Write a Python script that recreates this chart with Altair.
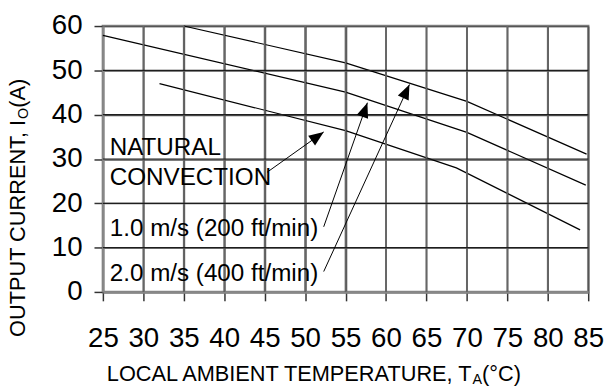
import math
import altair as alt
import pandas as pd

# ---- data ----
temp_top = [35, 55, 70, 84.8]          # 2.0 m/s (400 ft/min)
curr_top = [60, 51.7, 43.0, 31.1]
temp_mid = [25, 55, 70, 84.7]          # 1.0 m/s (200 ft/min)
curr_mid = [57.9, 45.1, 36.0, 24.1]
temp_nat = [32, 55, 68.7, 84]          # natural convection
curr_nat = [47.0, 36.4, 28.0, 14.0]

x_ticks = list(range(25, 90, 5))
y_ticks = list(range(0, 70, 10))

label_lines = ["NATURAL", "CONVECTION", "1.0 m/s (200 ft/min)", "2.0 m/s (400 ft/min)"]
label_x = [25.85, 25.85, 25.85, 25.85]
label_y = [30.93, 24.09, 12.71, 2.52]

arrow_x0 = [45.3, 52.3, 52.3]
arrow_y0 = [27.0, 14.7, 4.6]
arrow_x1 = [52.3, 57.7, 62.9]
arrow_y1 = [36.1, 42.7, 46.8]

# ---- layout ----
W, H = 491, 269
SX = W / 60.0
SY = H / 60.0
FONT = "Liberation Sans"
TITLE_FS = 22
SUB_FS = 14.5

rows = []
for name, xs_, ys_ in [("top", temp_top, curr_top), ("mid", temp_mid, curr_mid),
                       ("nat", temp_nat, curr_nat)]:
    for i, (a, b) in enumerate(zip(xs_, ys_)):
        rows.append({"series": name, "t": a, "i": b, "o": i})
curves = pd.DataFrame(rows)

labels = pd.DataFrame({"text": label_lines, "x": label_x, "y": label_y})

heads = []
for x0, y0, x1, y1 in zip(arrow_x0, arrow_y0, arrow_x1, arrow_y1):
    dx = (x1 - x0) * SX
    dy = (y1 - y0) * SY
    L = math.hypot(dx, dy)
    ux, uy = dx / L, dy / L
    heads.append({"x0": x0, "y0": y0, "x1": x1, "y1": y1,
                  "hx": x1 - 7.5 * ux / SX, "hy": y1 - 7.5 * uy / SY,
                  "ang": math.degrees(math.atan2(dx, dy)) % 360})
arrows = pd.DataFrame(heads)

# grid segments (from tick values, spanning the axis domains)
vg = pd.DataFrame({"gx0": [float(v) for v in x_ticks[1:-1]],
                   "gy0": [0.0] * (len(x_ticks) - 2),
                   "gx1": [float(v) for v in x_ticks[1:-1]],
                   "gy1": [60.0] * (len(x_ticks) - 2)})
hg = pd.DataFrame({"gx0": [25.0] * (len(y_ticks) - 2),
                   "gy0": [float(v) for v in y_ticks[1:-1]],
                   "gx1": [85.0] * (len(y_ticks) - 2),
                   "gy1": [float(v) for v in y_ticks[1:-1]]})

xs = alt.Scale(domain=[25, 85], nice=False, zero=False)
ys = alt.Scale(domain=[0, 60], nice=False)

x_axis = alt.Axis(values=x_ticks, title=None)
y_axis = alt.Axis(values=y_ticks, title=None)


def X(f):
    return alt.X(f, type="quantitative", scale=xs, axis=x_axis)


def Y(f):
    return alt.Y(f, type="quantitative", scale=ys, axis=y_axis)


lines = alt.Chart(curves).mark_line(color="black", strokeWidth=1.2).encode(
    x=X("t"), y=Y("i"), detail="series:N", order="o:Q",
)

vgrid = alt.Chart(vg).mark_rule(color="#666666", strokeWidth=1.8).encode(
    x=X("gx0"), y=Y("gy0"), x2="gx1:Q", y2="gy1:Q")
hgrid = alt.Chart(hg).mark_rule(color="#1e1e1e", strokeWidth=1.2).encode(
    x=X("gx0"), y=Y("gy0"), x2="gx1:Q", y2="gy1:Q")

text = alt.Chart(labels).mark_text(align="left", baseline="alphabetic", fontSize=24.5,
                                   font=FONT, color="black").encode(
    x=X("x"), y=Y("y"), text="text:N")

rules = alt.Chart(arrows).mark_rule(color="black", strokeWidth=1).encode(
    x=X("x0"), y=Y("y0"), x2="x1:Q", y2="y1:Q")

tri = alt.Chart(arrows).mark_point(shape="M0,-1L0.8,1L-0.8,1Z", filled=True, opacity=1,
                                   color="black", size=225).encode(
    x=X("hx"), y=Y("hy"), angle=alt.Angle("ang:Q", scale=None))

one = pd.DataFrame({"k": [0]})

# x title: main part right-aligned at the subscript joint
XA = 373      # joint between "T" and subscript "A" (plot px)
XB = 359      # baseline (plot px)
x_parts = [
    ("LOCAL AMBIENT TEMPERATURE, T", XA, XB, TITLE_FS, "right"),
    ("A", XA + 1, XB + 3, SUB_FS, "left"),
    (" (°C)", XA + 1 + 0.667 * SUB_FS, XB, TITLE_FS, "left"),
]
# y title (rotated): joint between "I" and subscript "O"
YA = 95
YX = -79
y_parts = [
    ("OUTPUT CURRENT, I", YX, YA, TITLE_FS, "right"),
    ("O", YX + 3, YA - 1, SUB_FS, "left"),
    (" (A)", YX, YA - 1 - 0.778 * SUB_FS, TITLE_FS, "left"),
]

title_layers = []
for s, px, py, fs, al in x_parts:
    title_layers.append(alt.Chart(one).mark_text(
        text=s, align=al, baseline="alphabetic", fontSize=fs, font=FONT,
        color="black").encode(x=alt.value(px), y=alt.value(py)))
for s, px, py, fs, al in y_parts:
    title_layers.append(alt.Chart(one).mark_text(
        text=s, align=al, baseline="alphabetic", fontSize=fs, font=FONT,
        color="black", angle=270).encode(x=alt.value(px), y=alt.value(py)))

chart = alt.layer(lines, vgrid, hgrid, rules, tri, text, *title_layers).properties(
    width=W, height=H,
    background="white",
    autosize=alt.AutoSizeParams(type="none"),
    padding={"left": 96, "top": 16, "right": 18, "bottom": 100},
).configure_view(
    stroke="#888", strokeWidth=2.5
).configure_axis(
    grid=True, gridColor="#555", gridWidth=1.5, gridOpacity=1,
    labelFontSize=28, labelFont=FONT, labelColor="black",
    tickSize=9, tickColor="#333", tickWidth=1.5,
    domainColor="#888", domainWidth=2.5, labelFlush=False, labelOverlap=False,
).configure_axisX(
    labelPadding=24,
).configure_axisY(
    labelPadding=12,
)

chart.save("out.html", embed_options={"renderer": "svg", "actions": False})
